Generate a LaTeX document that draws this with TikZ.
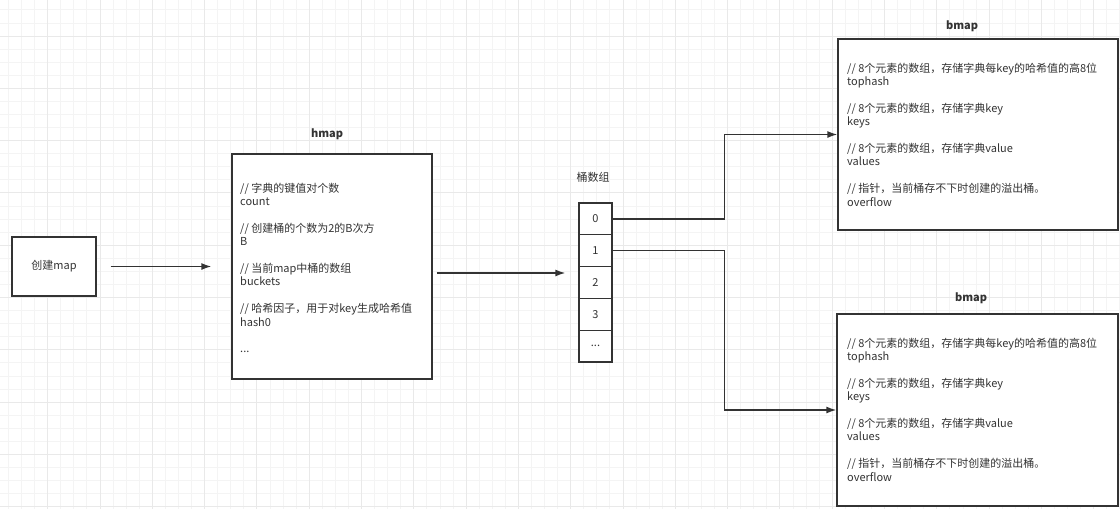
\documentclass[tikz,border=0pt]{standalone}
\usepackage{fontspec}
\setmainfont{Noto Sans CJK SC}
\usetikzlibrary{arrows.meta}
\definecolor{ink}{HTML}{333333}
\definecolor{minorline}{HTML}{F4F4F4}
\definecolor{majorline}{HTML}{E9E9E9}
\tikzstyle{box}=[draw=ink, line width=1.3pt, fill=white, inner sep=0pt, text=ink]
\tikzstyle{cell}=[box, minimum width=33pt, minimum height=31.8pt]
\tikzstyle{fields}=[align=left, inner sep=0pt, anchor=north west, text=ink]
\tikzstyle{title}=[font=\fontsize{11}{13}\selectfont\bfseries, text=ink]
\tikzstyle{link}=[draw=ink, line width=1.4pt]

\begin{document}
\begin{tikzpicture}[x=1pt, y=-1pt, font=\fontsize{11}{13.35}\selectfont, >={Latex[length=10pt,width=7pt]}]
\useasboundingbox (0,0) rectangle (1120,509);
\foreach \i in {0,...,86} \draw[minorline, line width=0.9pt] ({-4.6+13.075*\i},0) -- ({-4.6+13.075*\i},509);
\foreach \i in {0,...,39} \draw[minorline, line width=0.9pt] (0,{-3.2+13.075*\i}) -- (1120,{-3.2+13.075*\i});
\foreach \i in {0,...,21} \draw[majorline, line width=0.9pt] ({-4.6+52.3*\i},0) -- ({-4.6+52.3*\i},509);
\foreach \i in {0,...,10} \draw[majorline, line width=0.9pt] (0,{-16.3+52.3*\i}) -- (1120,{-16.3+52.3*\i});

\node[box, minimum width=84pt, minimum height=59pt] (create) at (54,266.5) {创建map};

\node[box, minimum width=200pt, minimum height=225pt] (hmap) at (332,266.5) {};
\node[title] (hmaptitle) at (327,134) {hmap};
\node[fields] (hmapfields) at (240,183) {// 字典的键值对个数\\count\\[13.35pt]
// 创建桶的个数为2的B次方\\B\\[13.35pt]
// 当前map中桶的数组\\buckets\\[13.35pt]
// 哈希因子，用于对key生成哈希值\\hash0\\[13.35pt]
...};

\node[text=ink] (bucketlabel) at (593,177) {桶数组};
\node[cell] (cell0) at (595.5,218.9) {0};
\node[cell] (cell1) at (595.5,250.7) {1};
\node[cell] (cell2) at (595.5,282.5) {2};
\node[cell] (cell3) at (595.5,314.3) {3};
\node[cell] (cell4) at (595.5,346.1) {...};

\node[box, minimum width=280pt, minimum height=191pt] (bmap1) at (978,134.5) {};
\node[title] (bmap1title) at (962,26) {bmap};
\node[fields] (bmap1fields) at (847,63) {// 8个元素的数组，存储字典每key的哈希值的高8位\\tophash\\[13.35pt]
// 8个元素的数组，存储字典key\\keys\\[13.35pt]
// 8个元素的数组，存储字典value\\values\\[13.35pt]
// 指针，当前桶存不下时创建的溢出桶。\\overflow};

\node[box, minimum width=281pt, minimum height=192pt] (bmap2) at (977.5,410) {};
\node[title] (bmap2title) at (971,298) {bmap};
\node[fields] (bmap2fields) at (847,338) {// 8个元素的数组，存储字典每key的哈希值的高8位\\tophash\\[13.35pt]
// 8个元素的数组，存储字典key\\keys\\[13.35pt]
// 8个元素的数组，存储字典value\\values\\[13.35pt]
// 指针，当前桶存不下时创建的溢出桶。\\overflow};

\draw[link, ->, shorten <=14pt, shorten >=20pt] (create) -- (hmap);
\draw[link, ->, shorten <=4pt, shorten >=13pt] ([yshift=-6.5pt]hmap.east) -- ([yshift=-6.5pt]hmap.east -| cell2.west);
\draw[link, ->] (cell0.east) -- ++(112,0) |- (bmap1.west);
\draw[link, ->] (cell1.east) -- ++(112,0) |- (bmap2.west);

\end{tikzpicture}
\end{document}
